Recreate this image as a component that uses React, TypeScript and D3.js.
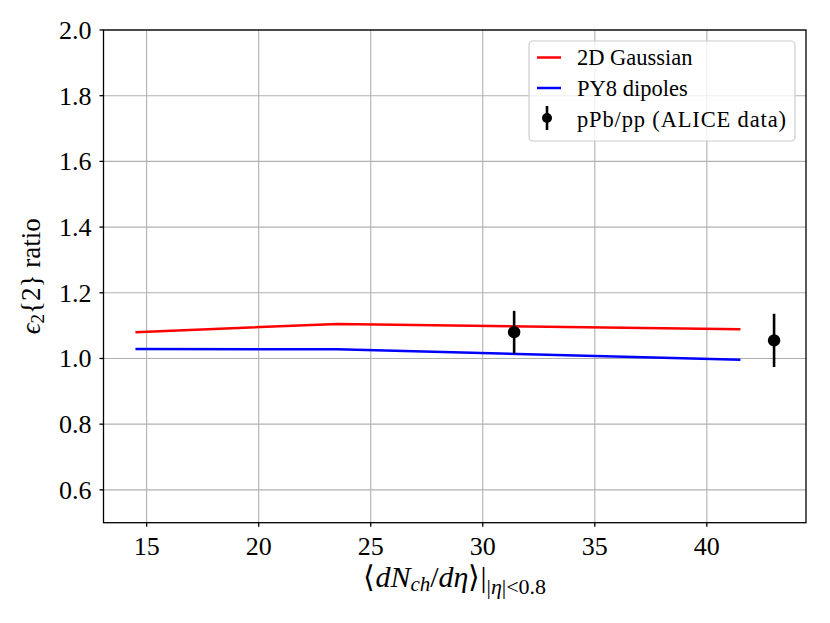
import React from "react";
import * as d3 from "d3";

// model curves
const modelX = [14.5, 23.5, 41.5];
const gaussian2D = [1.08, 1.105, 1.089];
const py8Dipoles = [1.029, 1.028, 0.996];

// ALICE pPb/pp ratio
const dataX = [31.4, 43.0];
const dataY = [1.08, 1.055];
const dataErr = [0.065, 0.081];

const xTicks = [15, 20, 25, 30, 35, 40];
const yTicks = [0.6, 0.8, 1.0, 1.2, 1.4, 1.6, 1.8, 2.0];

const width = 830;
const height = 623;
const margin = { top: 30, right: 24, bottom: 100.3, left: 103.5 };
const serif = "'Liberation Serif', 'Times New Roman', serif";

const App: React.FC = () => {
  // matplotlib style 5% autoscale margin on x
  const allX = [...modelX, ...dataX];
  const [xmin, xmax] = d3.extent(allX) as [number, number];
  const pad = (xmax - xmin) * 0.05;

  const x = d3
    .scaleLinear()
    .domain([xmin - pad, xmax + pad])
    .range([margin.left, width - margin.right]);
  const y = d3
    .scaleLinear()
    .domain([0.5, 2.0])
    .range([height - margin.bottom, margin.top]);

  const line = d3
    .line<number>()
    .x((_, i) => x(modelX[i]))
    .y((d) => y(d));

  const [x0, x1] = x.range();
  const [y0, y1] = y.range();

  return (
    <svg
      width={width}
      height={height}
      style={{ position: "absolute", left: 0, top: 0, background: "white" }}
      fontFamily={serif}
    >
      {/* grid */}
      <g stroke="#b0b0b0" strokeWidth={1.1}>
        {xTicks.map((t) => (
          <line key={"gx" + t} x1={x(t)} x2={x(t)} y1={y1} y2={y0} />
        ))}
        {yTicks.map((t) => (
          <line key={"gy" + t} x1={x0} x2={x1} y1={y(t)} y2={y(t)} />
        ))}
      </g>

      {/* model lines */}
      <path d={line(gaussian2D) || ""} fill="none" stroke="#ff0000" strokeWidth={2.5} />
      <path d={line(py8Dipoles) || ""} fill="none" stroke="#0000ff" strokeWidth={2.5} />

      {/* data with error bars */}
      {dataX.map((dx, i) => (
        <g key={"pt" + i}>
          <line
            x1={x(dx)}
            x2={x(dx)}
            y1={y(dataY[i] - dataErr[i])}
            y2={y(dataY[i] + dataErr[i])}
            stroke="black"
            strokeWidth={2.6}
          />
          <circle cx={x(dx)} cy={y(dataY[i])} r={6.2} fill="black" />
        </g>
      ))}

      {/* spines */}
      <rect x={x0} y={y1} width={x1 - x0} height={y0 - y1} fill="none" stroke="black" strokeWidth={1.3} />

      {/* x ticks */}
      <g>
        {xTicks.map((t) => (
          <g key={"xt" + t}>
            <line x1={x(t)} x2={x(t)} y1={y0} y2={y0 + 4} stroke="black" strokeWidth={1.3} />
            <text x={x(t)} y={y0 + 32} textAnchor="middle" fontSize={26}>
              {t}
            </text>
          </g>
        ))}
      </g>

      {/* y ticks */}
      <g>
        {yTicks.map((t) => (
          <g key={"yt" + t}>
            <line x1={x0 - 4} x2={x0} y1={y(t)} y2={y(t)} stroke="black" strokeWidth={1.3} />
            <text x={x0 - 12} y={y(t) + 9} textAnchor="end" fontSize={26}>
              {t.toFixed(1)}
            </text>
          </g>
        ))}
      </g>

      {/* x label */}
      <text x={(x0 + x1) / 2} y={587} textAnchor="middle" fontSize={30}>
        <tspan>⟨</tspan>
        <tspan fontStyle="italic">dN</tspan>
        <tspan fontStyle="italic" fontSize={21} dy={4}>ch</tspan>
        <tspan dy={-4}>/</tspan>
        <tspan fontStyle="italic">dη</tspan>
        <tspan>⟩|</tspan>
        <tspan fontSize={22} dy={7}>|</tspan>
        <tspan fontSize={22} fontStyle="italic">η</tspan>
        <tspan fontSize={22}>|&lt;0.8</tspan>
      </text>

      {/* y label */}
      <text transform={`translate(40, ${(y0 + y1) / 2}) rotate(-90)`} textAnchor="middle" fontSize={27}>
        <tspan fontStyle="italic">ϵ</tspan>
        <tspan fontSize={19} dy={4}>2</tspan>
        <tspan dy={-4}>{"{2} ratio"}</tspan>
      </text>

      {/* legend */}
      <g>
        <rect x={529} y={41} width={266} height={100} rx={4} fill="white" fillOpacity={0.8} stroke="#cccccc" strokeWidth={1.2} />
        <line x1={537} x2={561} y1={57.5} y2={57.5} stroke="#ff0000" strokeWidth={2.5} />
        <line x1={537} x2={561} y1={88} y2={88} stroke="#0000ff" strokeWidth={2.5} />
        <line x1={547} x2={547} y1={106} y2={130} stroke="black" strokeWidth={2.6} />
        <circle cx={547} cy={118} r={5} fill="black" />
        <g fontSize={22.5}>
          <text x={577} y={65}>2D Gaussian</text>
          <text x={577} y={96}>PY8 dipoles</text>
          <text x={577} y={127} textLength={209} lengthAdjust="spacing">pPb/pp (ALICE data)</text>
        </g>
      </g>
    </svg>
  );
};

export default App;
